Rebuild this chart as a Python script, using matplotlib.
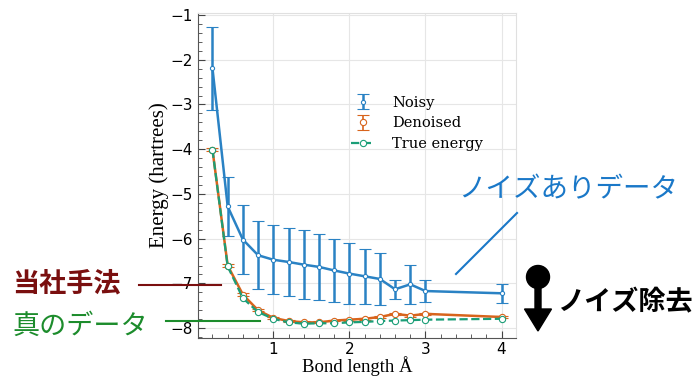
import matplotlib
matplotlib.use("Agg")
import matplotlib.pyplot as plt
from matplotlib.lines import Line2D
from matplotlib.patches import Circle, FancyArrow
from matplotlib.ticker import AutoMinorLocator

# data
bond_length = [0.2, 0.4, 0.6, 0.8, 1.0, 1.2, 1.4, 1.6, 1.8, 2.0, 2.2, 2.4, 2.6, 2.8, 3.0, 4.0]
noisy = [-2.19, -5.28, -6.02, -6.37, -6.47, -6.52, -6.58, -6.63, -6.71, -6.78, -6.84, -6.90, -7.13, -7.02, -7.17, -7.22]
noisy_err = [0.93, 0.66, 0.78, 0.76, 0.77, 0.77, 0.77, 0.74, 0.71, 0.68, 0.61, 0.58, 0.21, 0.44, 0.24, 0.21]
denoised = [-4.01, -6.60, -7.25, -7.60, -7.77, -7.84, -7.87, -7.87, -7.83, -7.81, -7.79, -7.75, -7.68, -7.72, -7.68, -7.75]
denoised_err = [0.03, 0.04, 0.03, 0.02, 0.02, 0.02, 0.02, 0.02, 0.02, 0.02, 0.02, 0.02, 0.02, 0.02, 0.02, 0.02]
true_energy = [-4.01, -6.62, -7.33, -7.64, -7.79, -7.87, -7.90, -7.89, -7.89, -7.87, -7.86, -7.84, -7.83, -7.82, -7.81, -7.79]

c_noisy = '#2a82c4'
c_denoised = '#d8641c'
c_true = '#1b9e77'

fig = plt.figure(figsize=(6.96, 3.76), dpi=100)
ax = fig.add_axes([0.2845, 0.101, 0.4569, 0.865])

# connecting lines (no legend entry), errorbars carry the labels
ax.plot(bond_length, noisy, color=c_noisy, lw=1.8, zorder=3)
ax.errorbar(bond_length, noisy, yerr=noisy_err, fmt='o', color=c_noisy, capsize=4,
            elinewidth=1.8, capthick=1.2, ms=3, mfc='white', mec=c_noisy,
            mew=0.8, label='Noisy', zorder=3)
ax.plot(bond_length, denoised, color=c_denoised, lw=1.8, zorder=4)
ax.errorbar(bond_length, denoised, yerr=denoised_err, fmt='o', color=c_denoised, capsize=4,
            elinewidth=1.2, capthick=1.2, ms=4.5, mfc='white', mec=c_denoised,
            mew=0.8, label='Denoised', zorder=4)
ax.plot(bond_length, true_energy, color=c_true, lw=1.6, ls='--', marker='o', ms=4.5,
        mfc='white', mec=c_true, mew=0.8, label='True energy', zorder=5)

ax.set_xlim(0.01, 4.19)
ax.set_ylim(-8.22, -0.95)
ax.set_xticks([1, 2, 3, 4])
ax.set_yticks([-8, -7, -6, -5, -4, -3, -2, -1])
ax.xaxis.set_minor_locator(AutoMinorLocator(5))
ax.yaxis.set_minor_locator(AutoMinorLocator(5))
ax.tick_params(which='both', direction='in', labelsize=11, color='#444444')
ax.tick_params(which='major', length=5)
ax.tick_params(which='minor', length=3)
ax.tick_params(axis='x', pad=3)
ax.grid(True, color='#e6e6e6', lw=0.8)
ax.set_axisbelow(True)
for s in ['top', 'right']:
    ax.spines[s].set_color('#e0e0e0')
for s in ['left', 'bottom']:
    ax.spines[s].set_color('#555555')

ax.set_xlabel('Bond length Å', family='Liberation Serif', fontsize=13.5)
ax.xaxis.label.set_va('baseline')
ax.xaxis.set_label_coords(0.5, -0.103)
ax.set_ylabel('Energy (hartrees)', family='Liberation Serif', fontsize=15, labelpad=1)

handles, labels = ax.get_legend_handles_labels()
order = [labels.index(n) for n in ['Noisy', 'Denoised', 'True energy']]
ax.legend([handles[i] for i in order], [labels[i] for i in order],
          loc='upper left', bbox_to_anchor=(0.44, 0.785), frameon=False,
          prop={'family': 'DejaVu Serif', 'size': 10.5}, handlelength=1.6,
          labelspacing=0.45, handletextpad=1.2)

# annotations (figure inches)
tr = fig.dpi_scale_trans
H = 3.76
jp = ['Noto Sans CJK JP', 'DejaVu Sans']

fig.text(4.58, H - 1.90, 'ノイズありデータ', transform=tr, family=jp, fontsize=19.8,
         color='#1a78c8', va='center', ha='left')
fig.add_artist(Line2D([4.56, 5.17], [H - 2.74, H - 2.13], transform=tr, color='#1a78c8', lw=1.5))

fig.text(0.12, H - 2.83, '当社手法', transform=tr, family=jp, fontsize=19.5,
         fontweight='bold', color='#7a0f0f', va='center', ha='left')
fig.add_artist(Line2D([1.39, 2.21], [H - 2.85, H - 2.85], transform=tr, color='#7a0f0f', lw=1.5))

fig.text(0.12, H - 3.26, '真のデータ', transform=tr, family=jp, fontsize=19.5,
         color='#1c8c2c', va='center', ha='left')
fig.add_artist(Line2D([1.66, 2.60], [H - 3.21, H - 3.21], transform=tr, color='#1c8c2c', lw=1.5))

fig.add_artist(Circle((5.38, H - 2.77), 0.115, transform=tr, color='black'))
fig.add_artist(FancyArrow(5.38, H - 2.80, 0, -0.51, width=0.06, head_width=0.27,
                          head_length=0.22, length_includes_head=True, transform=tr,
                          color='black'))
fig.text(5.57, H - 3.02, 'ノイズ除去', transform=tr, family=jp, fontsize=19.5,
         fontweight='bold', color='black', va='center', ha='left')

fig.savefig('out.png', dpi=100)
